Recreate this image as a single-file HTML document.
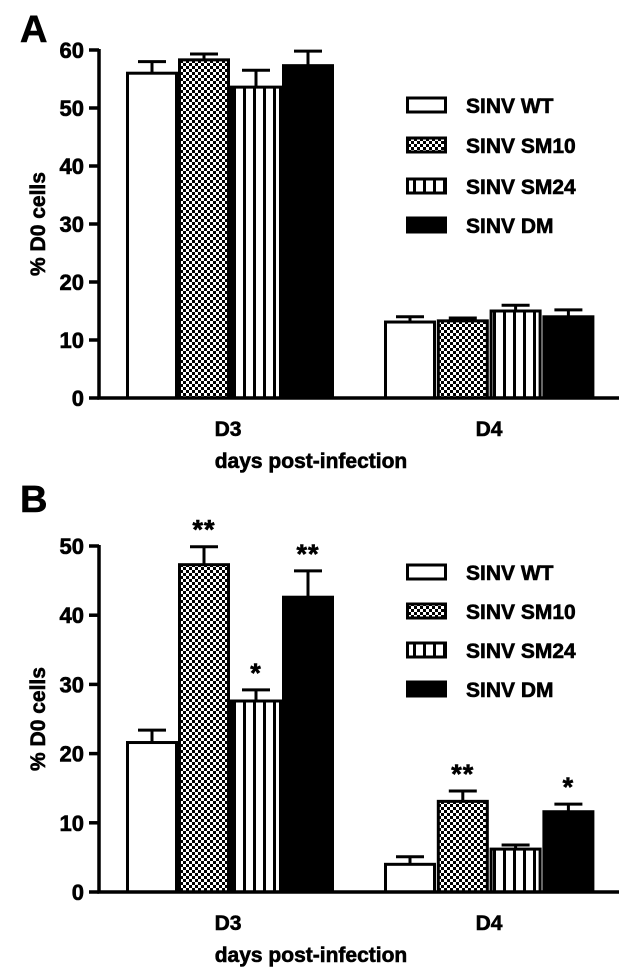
<!DOCTYPE html>
<html><head><meta charset="utf-8"><style>
body{margin:0;background:#fff;}
svg{display:block;font-family:"Liberation Sans",Arial,sans-serif;font-weight:bold;}
svg text{stroke:#000;stroke-width:0.6;}
</style></head><body>
<svg id="fig" width="624" height="970" viewBox="0 0 624 970" xmlns="http://www.w3.org/2000/svg">
<defs>
<pattern id="checker" width="6" height="6" patternUnits="userSpaceOnUse">
<rect width="6" height="6" fill="#fff"/><rect width="3" height="3" fill="#000"/><rect x="3" y="3" width="3" height="3" fill="#000"/>
</pattern>
<pattern id="stripes" width="10" height="10" patternUnits="userSpaceOnUse">
<rect width="10" height="10" fill="#fff"/><rect x="3" width="3" height="10" fill="#000"/>
</pattern>
</defs>
</svg>
<script>
const categories = ["D3","D4"];
const seriesNames = ["SINV WT","SINV SM10","SINV SM24","SINV DM"];
const fills = ["#fff","url(#checker)","url(#stripes)","#000"];
// Panel A
const aValues = [[56,13.1],[58.3,13.3],[53.6,15],[57.3,14]];
const aErrors = [[2.0,0.9],[1.0,0.5],[2.9,1.0],[2.5,1.2]];
const aTicks = [0,10,20,30,40,50,60];
// Panel B
const bValues = [[21.6,4.0],[47.3,13.1],[27.6,6.2],[42.6,11.6]];
const bErrors = [[1.8,1.1],[2.6,1.5],[1.6,0.6],[3.8,1.1]];
const bStars = [["",""],["**","**"],["*",""],["**","*"]];
const bTicks = [0,10,20,30,40,50];

const svg = document.getElementById('fig');
const NS = "http://www.w3.org/2000/svg";
function mk(tag, attrs, parent, text){
  const e = document.createElementNS(NS, tag);
  for (const k in attrs) e.setAttribute(k, attrs[k]);
  if (text !== undefined) e.textContent = text;
  (parent||svg).appendChild(e);
  return e;
}
function panel(P){
  const g = mk('g', {});
  
  
  const y = v => P.y0 - (v / P.max) * (P.y0 - P.yTop);
  const groupX = [126, 384];
  const bw = 52;
  const letter = mk('text', {x:20, y:P.letterY, 'font-size':38, 'stroke-width':1}, g, P.letter);
  
  
  for (let s = 0; s < seriesNames.length; s++){
    for (let c = 0; c < categories.length; c++){
      const x = groupX[c] + s * bw + (c === 1 ? s * 0.8 : 0);
      const v = P.values[s][c], e = P.errors[s][c];
      const cx = x + bw/2;
      const eb = mk('path', {d:`M${cx},${y(v)} V${y(v+e)} M${cx-14},${y(v+e)} H${cx+14}`, stroke:'#000','stroke-width':3, fill:'none'}, g);
      
      
      const r = mk('rect', {x:x+1.5, y:y(v), width:bw-3, height:P.y0-y(v), fill:fills[s], stroke:'#000','stroke-width':3}, g);
      
      
      if (P.stars && P.stars[s][c]){
        const st = mk('text', {x:cx, y:y(v+e)-8, 'text-anchor':'middle','font-size':27,'letter-spacing':1}, g, P.stars[s][c]);
        
        
      }
    }
  }
  const ax = mk('path', {d:`M99,${P.yTop-1} V${P.y0} H619`, stroke:'#000','stroke-width':3.5, fill:'none'}, g);
  
  
  for (const t of P.ticks){
    mk('line', {x1:89, x2:99, y1:y(t), y2:y(t), stroke:'#000','stroke-width':3.5}, g);
    const tl = mk('text', {x:84, y:y(t)+8, 'text-anchor':'end','font-size':22}, g, t);
    
    
  }
  const yt = mk('text', {transform:`translate(45,${(P.y0+P.yTop)/2}) rotate(-90)`, 'text-anchor':'middle','font-size':21}, g, '% D0 cells');
  
  
  const cxs = [228, 489];
  categories.forEach((c,i)=>{
    const cl = mk('text', {x:cxs[i], y:P.y0+38, 'text-anchor':'middle','font-size':21}, g, c);
    
    
  });
  const xt = mk('text', {x:311, y:P.y0+70, 'text-anchor':'middle','font-size':21}, g, 'days post-infection');
  
  
  seriesNames.forEach((n,i)=>{
    const ly = P.legY[i];
    const le = mk('g', {}, g);
    
    
    mk('rect', {x:407.5, y:ly-7, width:38, height:14, fill:fills[i], stroke:'#000','stroke-width':3}, le);
    mk('text', {x:466, y:ly+8, 'font-size':21}, le, n);
  });
}
panel({name:'panel-a', letter:'A', letterY:42, y0:398, yTop:50, max:60, values:aValues, errors:aErrors, ticks:aTicks, stars:null, legY:[105,145,186,225]});
panel({name:'panel-b', letter:'B', letterY:512, y0:892, yTop:546, max:50, values:bValues, errors:bErrors, ticks:bTicks, stars:bStars, legY:[572,611,650,689]});
</script>
</body></html>
